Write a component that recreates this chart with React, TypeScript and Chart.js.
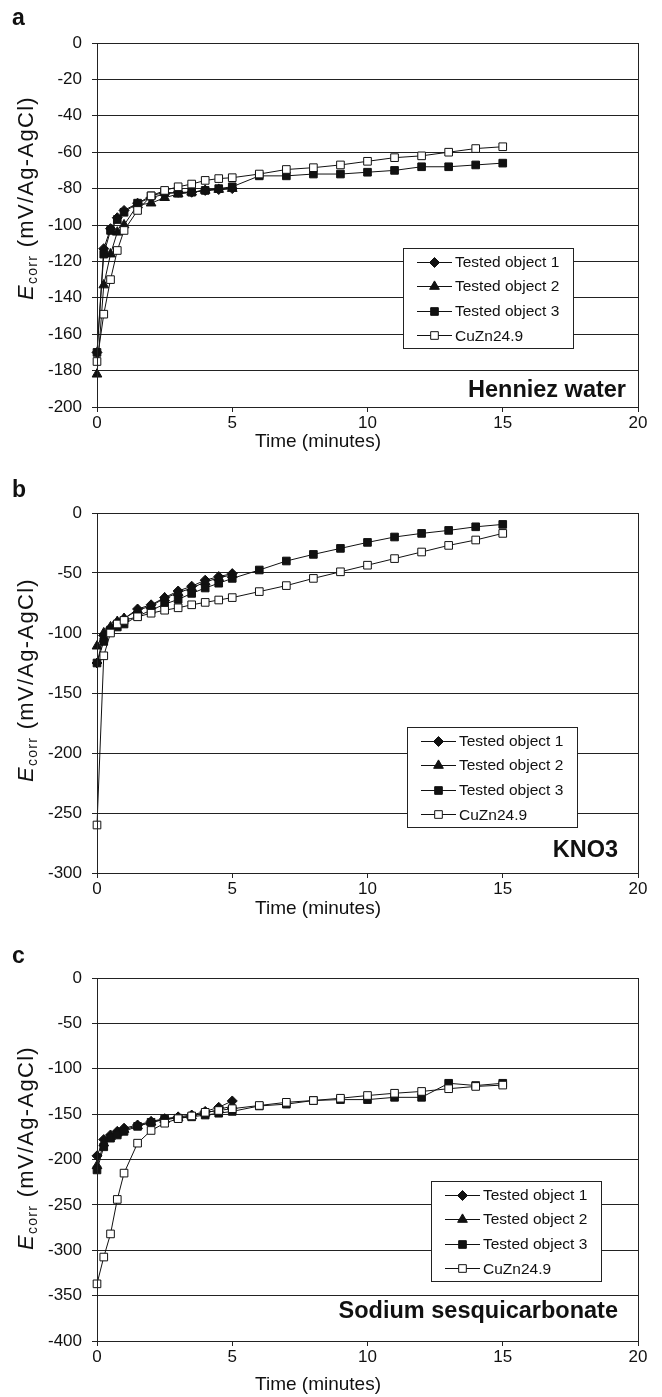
import React, { useEffect, useRef } from 'react';
import { Chart, registerables } from 'chart.js';

Chart.register(...registerables);

// ---------- data ----------
const SERIES_LABELS = ['Tested object 1', 'Tested object 2', 'Tested object 3', 'CuZn24.9'];

const TIME_SHORT = [0, 0.25, 0.5, 0.75, 1, 1.5, 2, 2.5, 3, 3.5, 4, 4.5, 5];
const TIME_LONG = [0, 0.25, 0.5, 0.75, 1, 1.5, 2, 2.5, 3, 3.5, 4, 4.5, 5, 6, 7, 8, 9, 10, 11, 12, 13, 14, 15];

const X_TICKS = [0, 5, 10, 15, 20];

// (a) Henniez water
const A_OBJ1 = [-170, -113, -102, -96, -92, -88, -85, -83, -82, -82, -81, -80.5, -80];
const A_OBJ2 = [-182, -133, -116, -104, -100, -89, -88, -85, -83, -82, -81, -80.5, -80];
const A_OBJ3 = [-170, -116, -103, -97, -93, -88, -84, -82, -82.5, -82, -81, -80, -79, -73, -73, -72, -72, -71, -70, -68, -68, -67, -66];
const A_CUZN = [-175, -149, -130, -114, -103, -92, -84, -81, -79, -77.5, -75.5, -74.5, -74, -72, -69.5, -68.5, -67, -65, -63, -62, -60, -58, -57];

// (b) KNO3
const B_OBJ1 = [-125, -102, -96, -91, -88, -80, -76.5, -70.5, -65, -61, -56, -53, -50.5];
const B_OBJ2 = [-111, -100, -95, -90.5, -88, -81, -77.5, -71, -66.5, -62.5, -57.5, -54, -51.5];
const B_OBJ3 = [-125, -107, -97.5, -95, -92.5, -86, -81, -76, -72, -67, -62.5, -58.5, -54.5, -47.5, -40, -34.5, -29.5, -24.5, -20, -17, -14.5, -11.5, -9.5];
const B_CUZN = [-260, -119, -100, -92.5, -89.5, -86.5, -83.5, -81, -79, -76.5, -74.5, -72.5, -70.5, -65.5, -60.5, -54.5, -49, -43.5, -38, -32.5, -27, -22.5, -17];

// (c) Sodium sesquicarbonate
const C_OBJ1 = [-196, -178, -173, -169, -165.5, -162, -158, -155, -153, -151, -147, -142.5, -135.5];
const C_OBJ2 = [-207, -182, -175, -171, -167, -163, -159, -156, -154, -152, -149, -145, -141];
const C_OBJ3 = [-211.5, -186, -176.5, -173, -169, -163.5, -159, -155.5, -154.5, -153, -151, -149, -147, -141, -139, -135, -134, -134, -131.5, -131.5, -116, -118.5, -116];
const C_CUZN = [-337, -307.5, -282, -244, -215, -182, -168, -160, -155, -152, -148, -146, -144, -140.5, -137, -135, -132.5, -129.5, -127, -125, -122, -119.5, -118];

const PANELS = [
  { letter: 'a', inset: 'Henniez water', yMin: -200, yStep: 20, series: [A_OBJ1, A_OBJ2, A_OBJ3, A_CUZN] },
  { letter: 'b', inset: 'KNO3', yMin: -300, yStep: 50, series: [B_OBJ1, B_OBJ2, B_OBJ3, B_CUZN] },
  { letter: 'c', inset: 'Sodium sesquicarbonate', yMin: -400, yStep: 50, series: [C_OBJ1, C_OBJ2, C_OBJ3, C_CUZN] },
];

const SERIES_TIMES = [TIME_SHORT, TIME_SHORT, TIME_LONG, TIME_LONG];

// ---------- layout / style ----------
const FONT = '"Liberation Sans", Arial, Helvetica, sans-serif';
const INK = '#111';

const LAYOUT = [
  { top: 0, height: 470, plotTop: 43, plotBottom: 407, legendX: 403, legendY: 248, insetRight: 626, insetY: 397, letterY: 25, yTitleStart: 300, xTitleY: 447 },
  { top: 470, height: 465, plotTop: 43, plotBottom: 403, legendX: 407, legendY: 257, insetRight: 618, insetY: 387, letterY: 27, yTitleStart: 312, xTitleY: 444 },
  { top: 935, height: 462, plotTop: 43, plotBottom: 406, legendX: 431, legendY: 246, insetRight: 618, insetY: 383, letterY: 28, yTitleStart: 315, xTitleY: 455 },
];

const PLOT_LEFT = 97;
const PLOT_RIGHT = 638;
const CANVAS_W = 662;

const MARKERS = [
  { style: 'rectRot', r: 5, fill: INK, order: 3 },
  { style: 'triangle', r: 5.6, fill: INK, order: 2 },
  { style: 'rect', r: 5.4, fill: INK, order: 1 },
  { style: 'rect', r: 5.4, fill: '#fff', order: 0 },
];

function drawMarker(ctx: CanvasRenderingContext2D, style: string, x: number, y: number, r: number, fill: string) {
  ctx.beginPath();
  if (style === 'rect') {
    const s = Math.SQRT1_2 * r;
    ctx.rect(x - s, y - s, 2 * s, 2 * s);
  } else if (style === 'rectRot') {
    ctx.moveTo(x - r, y);
    ctx.lineTo(x, y - r);
    ctx.lineTo(x + r, y);
    ctx.lineTo(x, y + r);
    ctx.closePath();
  } else if (style === 'triangle') {
    let rad = 0;
    ctx.moveTo(x + Math.sin(rad) * r, y - Math.cos(rad) * r);
    rad += (2 * Math.PI) / 3;
    ctx.lineTo(x + Math.sin(rad) * r, y - Math.cos(rad) * r);
    rad += (2 * Math.PI) / 3;
    ctx.lineTo(x + Math.sin(rad) * r, y - Math.cos(rad) * r);
    ctx.closePath();
  }
  ctx.fillStyle = fill;
  ctx.fill();
  ctx.strokeStyle = INK;
  ctx.lineWidth = 1;
  ctx.stroke();
}

const decorPlugin = {
  id: 'decor',
  afterDraw(chart: any, _args: any, opts: any) {
    const { ctx, chartArea: ca } = chart;
    const L = opts.layout;
    ctx.save();
    // plot border
    ctx.strokeStyle = '#222';
    ctx.lineWidth = 1;
    ctx.strokeRect(Math.round(ca.left) + 0.5, Math.round(ca.top) + 0.5, Math.round(ca.right - ca.left), Math.round(ca.bottom - ca.top));

    // legend box
    const bw = 170, bh = 100;
    ctx.fillStyle = '#fff';
    ctx.fillRect(L.legendX, L.legendY, bw, bh);
    ctx.strokeStyle = '#222';
    ctx.strokeRect(L.legendX + 0.5, L.legendY + 0.5, bw, bh);
    ctx.font = `15.5px ${FONT}`;
    ctx.textBaseline = 'middle';
    ctx.textAlign = 'left';
    opts.labels.forEach((lab: string, i: number) => {
      const y = L.legendY + 13.5 + i * 24.6;
      ctx.strokeStyle = INK;
      ctx.lineWidth = 1;
      ctx.beginPath();
      ctx.moveTo(L.legendX + 14, Math.round(y) + 0.5);
      ctx.lineTo(L.legendX + 49, Math.round(y) + 0.5);
      ctx.stroke();
      const m = MARKERS[i];
      drawMarker(ctx, m.style, L.legendX + 31.5, Math.round(y) + 0.5, m.r, m.fill);
      ctx.fillStyle = INK;
      ctx.fillText(lab, L.legendX + 52, y + 1);
    });

    // inset label
    ctx.font = `bold 23.5px ${FONT}`;
    ctx.textAlign = 'right';
    ctx.textBaseline = 'alphabetic';
    ctx.fillStyle = INK;
    ctx.fillText(opts.inset, L.insetRight, L.insetY);

    // panel letter
    ctx.font = `bold 23px ${FONT}`;
    ctx.textAlign = 'left';
    ctx.fillText(opts.letter, 12, L.letterY);

    // x title
    ctx.font = `19px ${FONT}`;
    ctx.textAlign = 'center';
    ctx.fillText('Time (minutes)', 318, L.xTitleY);

    // y title (rotated, with subscript)
    ctx.translate(33, L.yTitleStart);
    ctx.rotate(-Math.PI / 2);
    ctx.textAlign = 'left';
    const parts = [
      { t: 'E', f: `italic 22px ${FONT}`, dy: 0 },
      { t: 'corr', f: `14px ${FONT}`, dy: 4 },
      { t: ' (mV/Ag-AgCl)', f: `22px ${FONT}`, dy: 0 },
    ];
    let natural = 0;
    let chars = 0;
    parts.forEach((p) => {
      ctx.font = p.f;
      natural += ctx.measureText(p.t).width;
      chars += p.t.length;
    });
    const target = 204;
    const spacing = Math.max(0, (target - natural) / chars);
    let cx = 0;
    parts.forEach((p) => {
      ctx.font = p.f;
      for (const ch of p.t) {
        ctx.fillText(ch, cx, p.dy);
        cx += ctx.measureText(ch).width + spacing;
      }
    });
    ctx.restore();
  },
};

function Panel({ idx }: { idx: number }) {
  const ref = useRef<HTMLCanvasElement>(null);
  const P = PANELS[idx];
  const L = LAYOUT[idx];
  useEffect(() => {
    const datasets = P.series.map((vals, i) => {
      const times = SERIES_TIMES[i];
      const m = MARKERS[i];
      return {
        label: SERIES_LABELS[i],
        data: vals.map((v, k) => ({ x: times[k], y: v })),
        borderColor: INK,
        borderWidth: 1,
        backgroundColor: m.fill,
        pointBackgroundColor: m.fill,
        pointBorderColor: INK,
        pointBorderWidth: 1,
        pointStyle: m.style,
        pointRadius: m.r,
        tension: 0,
        order: m.order,
        clip: false,
      };
    });
    const chart = new Chart(ref.current as HTMLCanvasElement, {
      type: 'line',
      data: { datasets },
      plugins: [decorPlugin],
      options: {
        responsive: false,
        animation: false,
        events: [],
        layout: { padding: { top: L.plotTop, right: CANVAS_W - PLOT_RIGHT, left: 0, bottom: 0 } },
        plugins: {
          legend: { display: false },
          tooltip: { enabled: false },
          title: { display: false },
          decor: { layout: L, labels: SERIES_LABELS, inset: P.inset, letter: P.letter },
        } as any,
        scales: {
          x: {
            type: 'linear',
            min: 0,
            max: 20,
            afterBuildTicks: (scale: any) => {
              scale.ticks = X_TICKS.map((v) => ({ value: v }));
            },
            afterFit: (scale: any) => {
              scale.height = L.height - L.plotBottom;
            },
            grid: { drawOnChartArea: false, drawTicks: true, tickLength: 5, color: '#222', lineWidth: 1 },
            border: { display: true, color: '#222', width: 1 },
            ticks: { color: INK, font: { size: 17, family: FONT }, padding: 1, maxRotation: 0 },
          },
          y: {
            type: 'linear',
            min: P.yMin,
            max: 0,
            ticks: { stepSize: P.yStep, color: INK, font: { size: 17, family: FONT }, padding: 10 },
            afterFit: (scale: any) => {
              scale.width = PLOT_LEFT;
            },
            grid: { drawOnChartArea: true, drawTicks: true, tickLength: 5, color: '#222', lineWidth: 1 },
            border: { display: true, color: '#222', width: 1 },
          },
        },
      } as any,
    });
    return () => chart.destroy();
  }, []);
  return (
    <div style={{ position: 'absolute', left: 0, top: L.top, width: CANVAS_W, height: L.height }}>
      <canvas ref={ref} width={CANVAS_W} height={L.height} style={{ display: 'block' }} />
    </div>
  );
}

export default function App() {
  return (
    <div style={{ position: 'absolute', left: 0, top: 0, width: CANVAS_W, height: 1397, background: '#fff' }}>
      {PANELS.map((_, i) => (
        <Panel key={i} idx={i} />
      ))}
    </div>
  );
}
